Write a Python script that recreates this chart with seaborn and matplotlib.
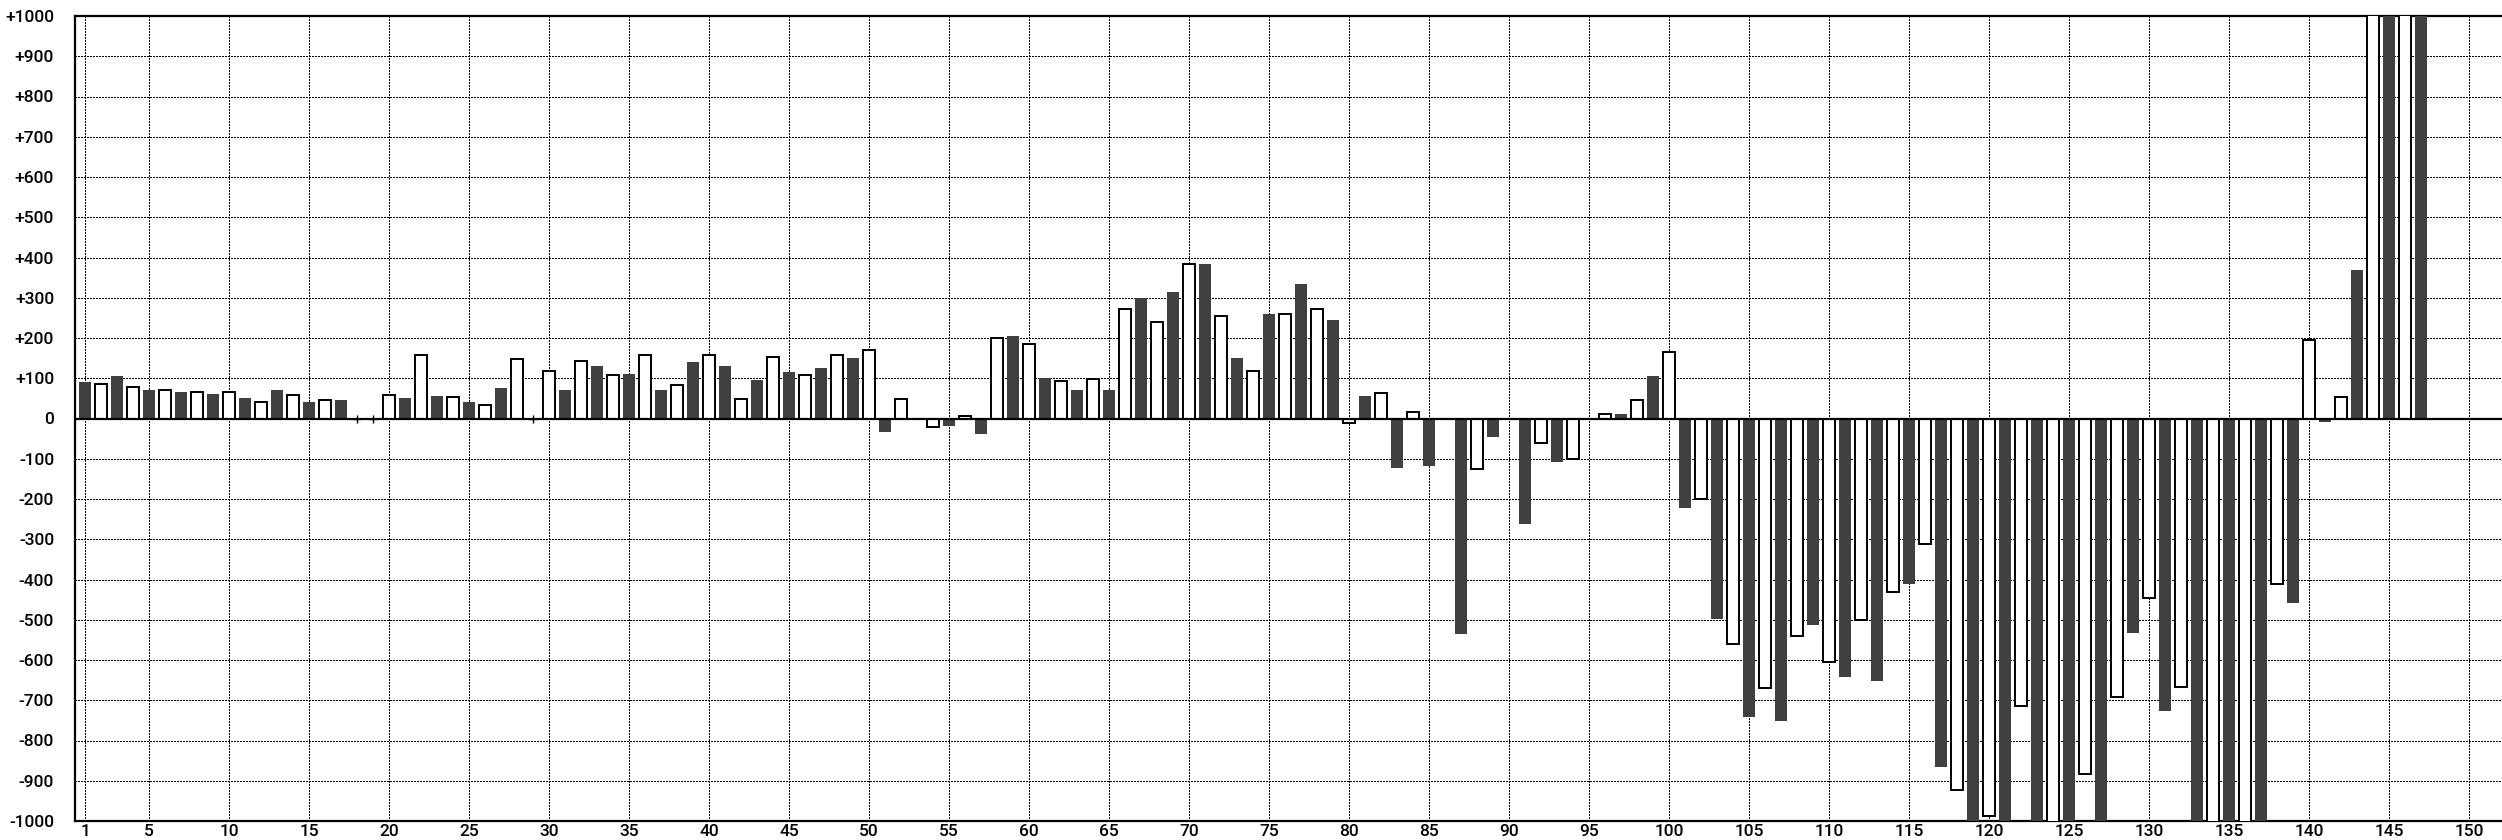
import numpy as np
import pandas as pd
import seaborn as sns
import matplotlib.pyplot as plt

# valores (x = 1..147), nan = sin barra
# los que pasan de +-1000 se recortan en el borde
valores = [
    91, 85, 105, 79, 71, 70, 66, 65, 61, 65,
    51, 40, 71, 59, 41, 45, 46, 0, 0, 59,
    51, 159, 56, 54, 41, 34, 76, 149, 0, 119,
    71, 144, 130, 109, 111, 159, 71, 84, 140, 159,
    130, 49, 96, 154, 116, 109, 126, 159, 150, 169,
    -33, 49, np.nan, -22, -18, 5, -38, 199, 205, 185,
    101, 94, 71, 99, 71, 273, 300, 239, 315, 383,
    385, 254, 150, 119, 260, 259, 335, 273, 245, -12,
    56, 64, -122, 15, -117, np.nan, -536, -126, -47, np.nan,
    -262, -61, -107, -101, np.nan, 10, 11, 46, 106, 165,
    -222, -200, -499, -560, -741, -670, -751, -541, -512, -605,
    -642, -500, -652, -430, -412, -311, -866, -924, -1100, -988,
    -1100, -715, -1100, -1100, -1100, -884, -1100, -691, -532, -445,
    -727, -666, -1100, -1100, -1100, -1100, -1100, -412, -458, 194,
    -8, 54, 370, 1100, 1100, 1100, 1100,
]
posiciones = list(range(1, len(valores) + 1))

xticks = [1] + list(range(5, 151, 5))
yticks = list(range(-1000, 1001, 100))
ylabels = ["0" if t == 0 else (f"+{t}" if t > 0 else f"{t}") for t in yticks]

df = pd.DataFrame({"x": posiciones, "v": valores})
df["tipo"] = np.where(df["x"] % 2 == 1, "oscuro", "blanco")
ceros = df[df["v"] == 0]
barras = df[df["v"].notna() & (df["v"] != 0)]

sns.set_style("white")
plt.rcParams["font.family"] = ["Roboto", "DejaVu Sans"]

fig = plt.figure(figsize=(25.02, 8.4), dpi=100)
ax = fig.add_axes([75 / 2502, 1 - 821 / 840, 1 - 75 / 2502, (821 - 16) / 840])

sns.barplot(data=barras, x="x", y="v", hue="tipo",
            palette={"oscuro": "#404040", "blanco": "white"},
            native_scale=True, dodge=False, width=0.75, saturation=1,
            errorbar=None, legend=False, ax=ax, zorder=3)

for p in ax.patches:
    fc = p.get_facecolor()
    if fc[0] > 0.9:
        p.set_edgecolor("black")
        p.set_linewidth(1.4)
    else:
        p.set_edgecolor("none")
        p.set_linewidth(0)

# marcas de valor cero
sns.scatterplot(data=ceros, x="x", y="v", marker="+", s=40, color="black",
                linewidth=1.0, ax=ax, zorder=4)

ax.axhline(0, color="black", lw=1.6, zorder=5)

ax.set_xlim(1 + (75 - 85) / 16, 1 + (2502 - 85) / 16)
ax.set_ylim(-1000, 1000)
ax.set_xticks(xticks)
ax.set_xticklabels([str(t) for t in xticks])
ax.set_yticks(yticks)
ax.set_yticklabels(ylabels)
ax.set_xlabel("")
ax.set_ylabel("")

ax.grid(True, color="black", linestyle=(0, (1, 1)), linewidth=1.0,
        antialiased=False)
ax.set_axisbelow(True)

for s in ["left", "top", "bottom"]:
    ax.spines[s].set_color("black")
    ax.spines[s].set_linewidth(1.6)
ax.spines["right"].set_visible(False)

ax.tick_params(axis="both", length=0, labelsize=12.5, colors="black")
ax.tick_params(axis="y", pad=15)
ax.tick_params(axis="x", pad=2)
for lab in ax.get_xticklabels() + ax.get_yticklabels():
    lab.set_fontweight("medium")

fig.savefig("out.png", dpi=100)
